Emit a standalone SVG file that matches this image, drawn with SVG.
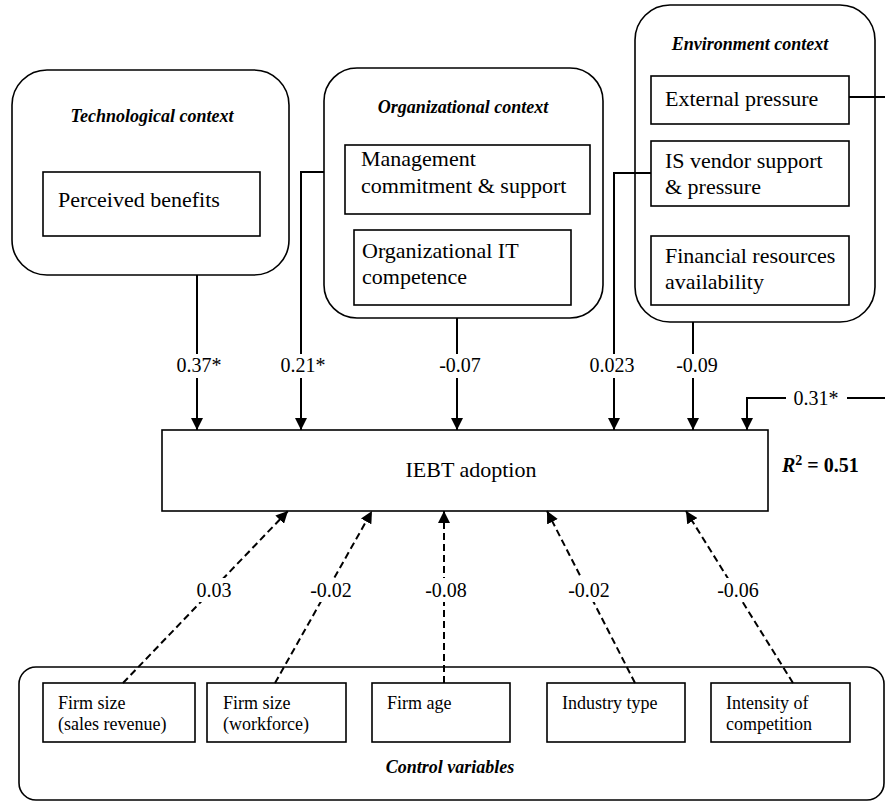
<svg xmlns="http://www.w3.org/2000/svg" width="885" height="802" viewBox="0 0 885 802">
<style>
text{font-family:"Liberation Serif","Times New Roman",serif;fill:#000}
.ctx{fill:#fff;stroke:#000;stroke-width:1.6}
.box{fill:#fff;stroke:#000;stroke-width:1.6}
.t{font-size:22px}
.s{font-size:18px}
.title{font-size:18px;font-weight:bold;font-style:italic}
.lbl{font-size:20px;text-anchor:middle}
.c{fill:none;stroke:#000;stroke-width:2}
.d{fill:none;stroke:#000;stroke-width:2;stroke-dasharray:7,4}
.bg{fill:#fff;stroke:none}
</style>
<defs>
<marker id="ah" markerUnits="userSpaceOnUse" markerWidth="12" markerHeight="12" refX="12" refY="6" orient="auto">
<path d="M0,0 L12,6 L0,12 z" fill="#000" stroke="none"/>
</marker>
</defs>
<rect width="885" height="802" fill="#fff"/>

<g id="technological-context">
<rect class="ctx" x="12" y="70" width="277" height="205" rx="35"/>
<text class="title" x="152" y="122" text-anchor="middle">Technological context</text>
<g id="perceived-benefits">
<rect class="box" x="43" y="172" width="217" height="64"/>
<text class="t" x="58" y="207">Perceived benefits</text>
</g>
</g>

<g id="organizational-context">
<rect class="ctx" x="324" y="68" width="279" height="250" rx="33"/>
<text class="title" x="463" y="113" text-anchor="middle">Organizational context</text>
<g id="management-commitment">
<rect class="box" x="345" y="145" width="245" height="69"/>
<text class="t" x="361" y="166">Management</text>
<text class="t" x="361" y="193">commitment &amp; support</text>
</g>
<g id="organizational-it">
<rect class="box" x="354" y="230" width="217" height="75"/>
<text class="t" x="362" y="258">Organizational IT</text>
<text class="t" x="362" y="284">competence</text>
</g>
</g>

<g id="environment-context">
<rect class="ctx" x="635" y="5" width="240" height="317" rx="35"/>
<text class="title" x="750" y="50" text-anchor="middle">Environment context</text>
<g id="external-pressure">
<rect class="box" x="651" y="76" width="198" height="48"/>
<text class="t" x="665" y="106">External pressure</text>
</g>
<g id="is-vendor">
<rect class="box" x="651" y="141" width="198" height="65"/>
<text class="t" x="665" y="168">IS vendor support</text>
<text class="t" x="665" y="194">&amp; pressure</text>
</g>
<g id="financial-resources">
<rect class="box" x="651" y="236" width="198" height="69"/>
<text class="t" x="665" y="263">Financial resources</text>
<text class="t" x="665" y="289">availability</text>
</g>
</g>

<g id="iebt-adoption">
<rect class="box" x="162" y="430" width="606" height="81"/>
<text class="t" x="471" y="477" text-anchor="middle">IEBT adoption</text>
<text x="782" y="472" font-size="20" font-weight="bold"><tspan font-style="italic">R</tspan><tspan font-size="14" dy="-7">2</tspan><tspan dy="7"> = 0.51</tspan></text>
</g>

<g id="control-variables">
<rect class="ctx" x="19" y="667" width="865" height="133" rx="17"/>
<text class="title" x="450" y="773" text-anchor="middle">Control variables</text>
<g id="firm-size-sales">
<rect class="box" x="43" y="683" width="152" height="59"/>
<text class="s" x="58" y="709">Firm size</text>
<text class="s" x="58" y="730">(sales revenue)</text>
</g>
<g id="firm-size-workforce">
<rect class="box" x="207" y="683" width="139" height="59"/>
<text class="s" x="223" y="709">Firm size</text>
<text class="s" x="223" y="730">(workforce)</text>
</g>
<g id="firm-age">
<rect class="box" x="372" y="683" width="138" height="59"/>
<text class="s" x="387" y="709">Firm age</text>
</g>
<g id="industry-type">
<rect class="box" x="547" y="683" width="138" height="59"/>
<text class="s" x="562" y="709">Industry type</text>
</g>
<g id="intensity-competition">
<rect class="box" x="711" y="683" width="139" height="59"/>
<text class="s" x="726" y="709">Intensity of</text>
<text class="s" x="726" y="730">competition</text>
</g>
</g>

<g id="connectors">
<path class="c" d="M197,275 V430" marker-end="url(#ah)"/>
<path class="c" d="M324,172 H301 V430" marker-end="url(#ah)"/>
<path class="c" d="M457,318 V430" marker-end="url(#ah)"/>
<path class="c" d="M651,173 H614 V430" marker-end="url(#ah)"/>
<path class="c" d="M693,322 V430" marker-end="url(#ah)"/>
<path class="c" d="M849,97 H900 V398 H747 V430" marker-end="url(#ah)"/>

<path class="d" d="M123,683 L288,511" marker-end="url(#ah)"/>
<path class="d" d="M275,683 L372,511" marker-end="url(#ah)"/>
<path class="d" d="M444,683 L444,511" marker-end="url(#ah)"/>
<path class="d" d="M635,683 L547,511" marker-end="url(#ah)"/>
<path class="d" d="M793,683 L686,511" marker-end="url(#ah)"/>

<rect class="bg" x="175" y="354" width="48" height="24"/>
<text class="lbl" x="199" y="372">0.37*</text>
<rect class="bg" x="279" y="354" width="48" height="24"/>
<text class="lbl" x="303" y="372">0.21*</text>
<rect class="bg" x="437" y="354" width="46" height="24"/>
<text class="lbl" x="460" y="372">-0.07</text>
<rect class="bg" x="588" y="354" width="48" height="24"/>
<text class="lbl" x="612" y="372">0.023</text>
<rect class="bg" x="674" y="354" width="46" height="24"/>
<text class="lbl" x="697" y="372">-0.09</text>
<rect class="bg" x="786" y="386" width="61" height="24"/>
<text class="lbl" x="816" y="405">0.31*</text>

<rect class="bg" x="195" y="578" width="40" height="24"/>
<text class="lbl" x="214" y="597">0.03</text>
<rect class="bg" x="308" y="578" width="46" height="24"/>
<text class="lbl" x="331" y="597">-0.02</text>
<rect class="bg" x="423" y="578" width="46" height="24"/>
<text class="lbl" x="446" y="597">-0.08</text>
<rect class="bg" x="566" y="578" width="46" height="24"/>
<text class="lbl" x="589" y="597">-0.02</text>
<rect class="bg" x="715" y="578" width="46" height="24"/>
<text class="lbl" x="738" y="597">-0.06</text>
</g>
</svg>
